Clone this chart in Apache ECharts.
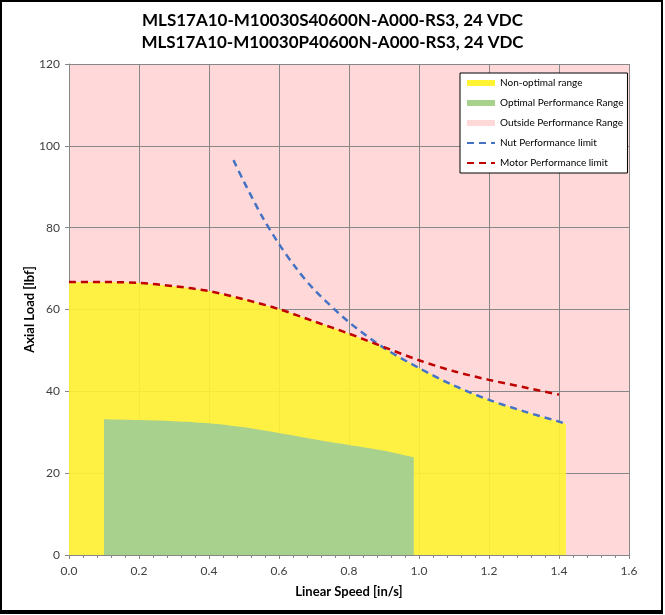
<!DOCTYPE html>
<html>
<head>
<meta charset="utf-8">
<script src="https://cdn.jsdelivr.net/npm/echarts@6/dist/echarts.min.js"></script>
<style>
html,body{margin:0;padding:0;background:#fff;}
#frame{position:absolute;left:0;top:0;width:663px;height:614px;border:2px solid #000;border-bottom-width:4px;box-sizing:border-box;}
#chart{position:absolute;left:0;top:0;width:665px;height:615px;}
</style>
</head>
<body>
<div id="chart"></div>
<div id="frame"></div>
<script>
// ---- data ----
const titleLines = ['MLS17A10-M10030S40600N-A000-RS3, 24 VDC', 'MLS17A10-M10030P40600N-A000-RS3, 24 VDC'];
const xTicks = [0.0, 0.2, 0.4, 0.6, 0.8, 1.0, 1.2, 1.4, 1.6];
const yTicks = [0, 20, 40, 60, 80, 100, 120];

const outsideX = [0, 1.6];
const outsideY = [120, 120];

const nonOptimalX = [0, 0.1, 0.2, 0.3, 0.4, 0.5, 0.6, 0.7, 0.8, 0.9, 0.92, 1.0, 1.1, 1.2, 1.3, 1.4, 1.42];
const nonOptimalY = [66.7, 66.7, 66.5, 65.7, 64.5, 62.5, 60.1, 57.1, 54.1, 50.7, 49.6, 45.7, 41.4, 37.9, 35.1, 32.6, 32.0];

const optimalX = [0.1, 0.2, 0.3, 0.4, 0.5, 0.6, 0.7, 0.8, 0.9, 0.985];
const optimalY = [33.2, 33.0, 32.7, 32.2, 31.2, 29.8, 28.3, 26.9, 25.5, 23.9];

const nutX = [0.47, 0.5, 0.55, 0.6, 0.65, 0.7, 0.8, 0.9, 1.0, 1.1, 1.2, 1.3, 1.4, 1.42];
const nutY = [96.5, 91.2, 83.0, 76.0, 70.0, 64.9, 56.9, 50.6, 45.7, 41.4, 37.9, 35.1, 32.6, 32.0];

const motorX = [0, 0.1, 0.2, 0.3, 0.4, 0.5, 0.6, 0.7, 0.8, 0.9, 1.0, 1.1, 1.2, 1.3, 1.4];
const motorY = [66.7, 66.7, 66.5, 65.7, 64.5, 62.5, 60.1, 57.1, 54.1, 50.8, 47.6, 44.9, 42.8, 41.0, 39.2];

const names = ['Non-optimal range', 'Optimal Performance Range', 'Outside Performance Range', 'Nut Performance limit', 'Motor Performance limit'];

const zip = (xs, ys) => xs.map((x, i) => [x, ys[i]]);

const FONT = 'Lato, "Liberation Sans", sans-serif';
const chart = echarts.init(document.getElementById('chart'), null, {renderer: 'canvas'});
chart.setOption({
  animation: false,
  backgroundColor: '#fff',
  title: {
    text: titleLines.join('\n'),
    left: 'center',
    top: 5,
    textStyle: {fontFamily: FONT, fontWeight: 'bold', fontSize: 17, lineHeight: 22, color: '#000'}
  },
  grid: {left: 69, right: 36, top: 64, bottom: 60, show: true, backgroundColor: '#FFD9D9', borderWidth: 0},
  legend: {
    orient: 'vertical',
    left: 460, top: 73,
    backgroundColor: '#fff', borderColor: '#000', borderWidth: 1,
    padding: [5, 4, 5, 6],
    itemGap: 10, itemWidth: 28, itemHeight: 6,
    textStyle: {fontFamily: FONT, fontSize: 10, color: '#000'},
    data: [
      {name: names[0], icon: 'rect'},
      {name: names[1], icon: 'rect'},
      {name: names[2], icon: 'rect'},
      {name: names[3], itemStyle: {opacity: 0}},
      {name: names[4], itemStyle: {opacity: 0}}
    ]
  },
  xAxis: {
    type: 'value', min: xTicks[0], max: xTicks[xTicks.length - 1], interval: 0.2,
    name: 'Linear Speed [in/s]', nameLocation: 'middle', nameGap: 30, nameMoveOverlap: false,
    nameTextStyle: {fontFamily: FONT, fontWeight: 'bold', fontSize: 13, color: '#000'},
    axisLine: {show: true, lineStyle: {color: '#868686', width: 1}},
    axisTick: {show: true, length: 4, lineStyle: {color: '#868686'}},
    minorTick: {show: true, splitNumber: 5, length: 3, lineStyle: {color: '#868686'}},
    splitLine: {show: true, lineStyle: {color: '#878787', width: 1}},
    axisLabel: {fontFamily: FONT, fontSize: 12, color: '#404040', margin: 10, formatter: v => v.toFixed(1)}
  },
  yAxis: {
    type: 'value', min: yTicks[0], max: yTicks[yTicks.length - 1], interval: 20,
    name: 'Axial Load [lbf]', nameLocation: 'middle', nameGap: 33, nameMoveOverlap: false,
    nameTextStyle: {fontFamily: FONT, fontWeight: 'bold', fontSize: 13, color: '#000'},
    axisLine: {show: true, lineStyle: {color: '#868686', width: 1}},
    axisTick: {show: true, length: 4, lineStyle: {color: '#868686'}},
    splitLine: {show: true, lineStyle: {color: '#878787', width: 1}},
    axisLabel: {fontFamily: FONT, fontSize: 12, color: '#404040', margin: 9}
  },
  series: [
    {
      name: names[2], type: 'line', z: -1, symbol: 'none', silent: true,
      data: zip(outsideX, outsideY),
      lineStyle: {width: 0}, itemStyle: {color: '#FFD9D9'},
      areaStyle: {color: '#FFD9D9', opacity: 0}
    },
    {
      name: names[0], type: 'line', symbol: 'none', smooth: 0.2,
      data: zip(nonOptimalX, nonOptimalY),
      lineStyle: {width: 0}, itemStyle: {color: '#FFF333'},
      areaStyle: {color: '#FFF333', opacity: 0.9}
    },
    {
      name: names[1], type: 'line', symbol: 'none', smooth: 0.3,
      data: zip(optimalX, optimalY),
      lineStyle: {width: 0}, itemStyle: {color: '#A9D18E'},
      areaStyle: {color: '#A9D18E', opacity: 1}
    },
    {
      name: names[3], type: 'line', symbol: 'none', smooth: 0.3,
      data: zip(nutX, nutY),
      itemStyle: {color: '#4472C4'},
      lineStyle: {color: '#4472C4', width: 2.5, type: [7, 5]}
    },
    {
      name: names[4], type: 'line', symbol: 'none', smooth: 0.3,
      data: zip(motorX, motorY),
      itemStyle: {color: '#C00000'},
      lineStyle: {color: '#C00000', width: 2.5, type: [7, 5]}
    }
  ]
});
</script>
</body>
</html>
